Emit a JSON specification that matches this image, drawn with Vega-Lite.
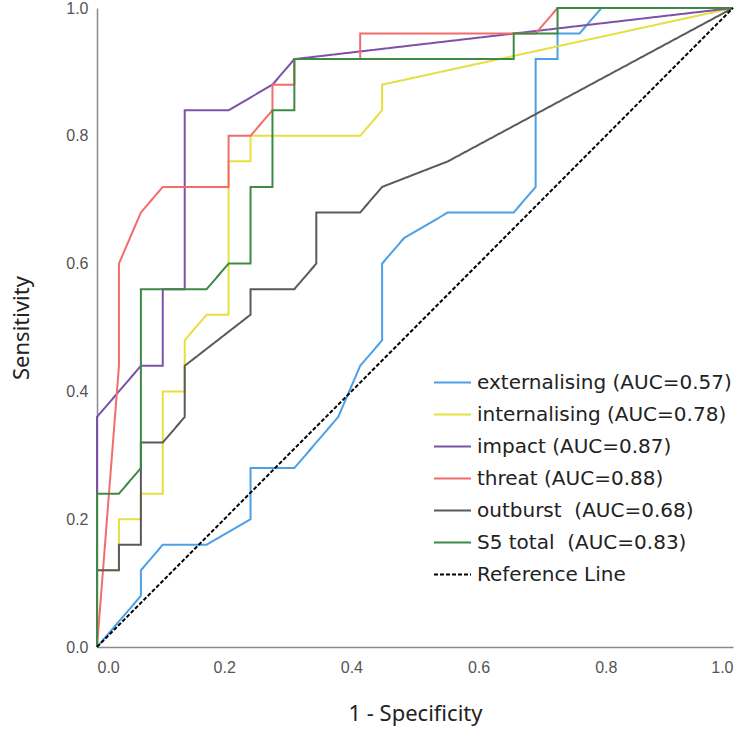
{
  "$schema": "https://vega.github.io/schema/vega-lite/v6.json",
  "autosize": "none",
  "width": 636,
  "height": 639,
  "padding": {"left": 97, "top": 8, "right": 17, "bottom": 87},
  "background": "white",
  "config": {"view": {"stroke": null}},
  "data": {"values": [
    {"series": "externalising (AUC=0.57)", "fpr": 0, "tpr": 0},
    {"series": "externalising (AUC=0.57)", "fpr": 0.069, "tpr": 0.08},
    {"series": "externalising (AUC=0.57)", "fpr": 0.069, "tpr": 0.12},
    {"series": "externalising (AUC=0.57)", "fpr": 0.1034, "tpr": 0.16},
    {"series": "externalising (AUC=0.57)", "fpr": 0.1724, "tpr": 0.16},
    {"series": "externalising (AUC=0.57)", "fpr": 0.2414, "tpr": 0.2},
    {"series": "externalising (AUC=0.57)", "fpr": 0.2414, "tpr": 0.28},
    {"series": "externalising (AUC=0.57)", "fpr": 0.3103, "tpr": 0.28},
    {"series": "externalising (AUC=0.57)", "fpr": 0.3793, "tpr": 0.36},
    {"series": "externalising (AUC=0.57)", "fpr": 0.4138, "tpr": 0.44},
    {"series": "externalising (AUC=0.57)", "fpr": 0.4483, "tpr": 0.48},
    {"series": "externalising (AUC=0.57)", "fpr": 0.4483, "tpr": 0.6},
    {"series": "externalising (AUC=0.57)", "fpr": 0.4828, "tpr": 0.64},
    {"series": "externalising (AUC=0.57)", "fpr": 0.5517, "tpr": 0.68},
    {"series": "externalising (AUC=0.57)", "fpr": 0.6552, "tpr": 0.68},
    {"series": "externalising (AUC=0.57)", "fpr": 0.6897, "tpr": 0.72},
    {"series": "externalising (AUC=0.57)", "fpr": 0.6897, "tpr": 0.92},
    {"series": "externalising (AUC=0.57)", "fpr": 0.7241, "tpr": 0.92},
    {"series": "externalising (AUC=0.57)", "fpr": 0.7241, "tpr": 0.96},
    {"series": "externalising (AUC=0.57)", "fpr": 0.7586, "tpr": 0.96},
    {"series": "externalising (AUC=0.57)", "fpr": 0.7931, "tpr": 1},
    {"series": "externalising (AUC=0.57)", "fpr": 1, "tpr": 1},

    {"series": "internalising (AUC=0.78)", "fpr": 0, "tpr": 0},
    {"series": "internalising (AUC=0.78)", "fpr": 0, "tpr": 0.12},
    {"series": "internalising (AUC=0.78)", "fpr": 0.0345, "tpr": 0.12},
    {"series": "internalising (AUC=0.78)", "fpr": 0.0345, "tpr": 0.2},
    {"series": "internalising (AUC=0.78)", "fpr": 0.069, "tpr": 0.2},
    {"series": "internalising (AUC=0.78)", "fpr": 0.069, "tpr": 0.24},
    {"series": "internalising (AUC=0.78)", "fpr": 0.1034, "tpr": 0.24},
    {"series": "internalising (AUC=0.78)", "fpr": 0.1034, "tpr": 0.4},
    {"series": "internalising (AUC=0.78)", "fpr": 0.1379, "tpr": 0.4},
    {"series": "internalising (AUC=0.78)", "fpr": 0.1379, "tpr": 0.48},
    {"series": "internalising (AUC=0.78)", "fpr": 0.1724, "tpr": 0.52},
    {"series": "internalising (AUC=0.78)", "fpr": 0.2069, "tpr": 0.52},
    {"series": "internalising (AUC=0.78)", "fpr": 0.2069, "tpr": 0.76},
    {"series": "internalising (AUC=0.78)", "fpr": 0.2414, "tpr": 0.76},
    {"series": "internalising (AUC=0.78)", "fpr": 0.2414, "tpr": 0.8},
    {"series": "internalising (AUC=0.78)", "fpr": 0.4138, "tpr": 0.8},
    {"series": "internalising (AUC=0.78)", "fpr": 0.4483, "tpr": 0.84},
    {"series": "internalising (AUC=0.78)", "fpr": 0.4483, "tpr": 0.88},
    {"series": "internalising (AUC=0.78)", "fpr": 1, "tpr": 1},

    {"series": "impact (AUC=0.87)", "fpr": 0, "tpr": 0},
    {"series": "impact (AUC=0.87)", "fpr": 0, "tpr": 0.36},
    {"series": "impact (AUC=0.87)", "fpr": 0.069, "tpr": 0.44},
    {"series": "impact (AUC=0.87)", "fpr": 0.1034, "tpr": 0.44},
    {"series": "impact (AUC=0.87)", "fpr": 0.1034, "tpr": 0.56},
    {"series": "impact (AUC=0.87)", "fpr": 0.1379, "tpr": 0.56},
    {"series": "impact (AUC=0.87)", "fpr": 0.1379, "tpr": 0.84},
    {"series": "impact (AUC=0.87)", "fpr": 0.2069, "tpr": 0.84},
    {"series": "impact (AUC=0.87)", "fpr": 0.2759, "tpr": 0.88},
    {"series": "impact (AUC=0.87)", "fpr": 0.3103, "tpr": 0.92},
    {"series": "impact (AUC=0.87)", "fpr": 1, "tpr": 1},

    {"series": "threat (AUC=0.88)", "fpr": 0, "tpr": 0},
    {"series": "threat (AUC=0.88)", "fpr": 0.0345, "tpr": 0.44},
    {"series": "threat (AUC=0.88)", "fpr": 0.0345, "tpr": 0.6},
    {"series": "threat (AUC=0.88)", "fpr": 0.069, "tpr": 0.68},
    {"series": "threat (AUC=0.88)", "fpr": 0.1034, "tpr": 0.72},
    {"series": "threat (AUC=0.88)", "fpr": 0.2069, "tpr": 0.72},
    {"series": "threat (AUC=0.88)", "fpr": 0.2069, "tpr": 0.8},
    {"series": "threat (AUC=0.88)", "fpr": 0.2414, "tpr": 0.8},
    {"series": "threat (AUC=0.88)", "fpr": 0.2759, "tpr": 0.84},
    {"series": "threat (AUC=0.88)", "fpr": 0.2759, "tpr": 0.88},
    {"series": "threat (AUC=0.88)", "fpr": 0.3103, "tpr": 0.88},
    {"series": "threat (AUC=0.88)", "fpr": 0.3103, "tpr": 0.92},
    {"series": "threat (AUC=0.88)", "fpr": 0.4138, "tpr": 0.92},
    {"series": "threat (AUC=0.88)", "fpr": 0.4138, "tpr": 0.96},
    {"series": "threat (AUC=0.88)", "fpr": 0.6897, "tpr": 0.96},
    {"series": "threat (AUC=0.88)", "fpr": 0.7241, "tpr": 1},
    {"series": "threat (AUC=0.88)", "fpr": 1, "tpr": 1},

    {"series": "outburst\u00a0 (AUC=0.68)", "fpr": 0, "tpr": 0},
    {"series": "outburst\u00a0 (AUC=0.68)", "fpr": 0, "tpr": 0.12},
    {"series": "outburst\u00a0 (AUC=0.68)", "fpr": 0.0345, "tpr": 0.12},
    {"series": "outburst\u00a0 (AUC=0.68)", "fpr": 0.0345, "tpr": 0.16},
    {"series": "outburst\u00a0 (AUC=0.68)", "fpr": 0.069, "tpr": 0.16},
    {"series": "outburst\u00a0 (AUC=0.68)", "fpr": 0.069, "tpr": 0.32},
    {"series": "outburst\u00a0 (AUC=0.68)", "fpr": 0.1034, "tpr": 0.32},
    {"series": "outburst\u00a0 (AUC=0.68)", "fpr": 0.1379, "tpr": 0.36},
    {"series": "outburst\u00a0 (AUC=0.68)", "fpr": 0.1379, "tpr": 0.44},
    {"series": "outburst\u00a0 (AUC=0.68)", "fpr": 0.2414, "tpr": 0.52},
    {"series": "outburst\u00a0 (AUC=0.68)", "fpr": 0.2414, "tpr": 0.56},
    {"series": "outburst\u00a0 (AUC=0.68)", "fpr": 0.3103, "tpr": 0.56},
    {"series": "outburst\u00a0 (AUC=0.68)", "fpr": 0.3448, "tpr": 0.6},
    {"series": "outburst\u00a0 (AUC=0.68)", "fpr": 0.3448, "tpr": 0.68},
    {"series": "outburst\u00a0 (AUC=0.68)", "fpr": 0.4138, "tpr": 0.68},
    {"series": "outburst\u00a0 (AUC=0.68)", "fpr": 0.4483, "tpr": 0.72},
    {"series": "outburst\u00a0 (AUC=0.68)", "fpr": 0.5517, "tpr": 0.76},
    {"series": "outburst\u00a0 (AUC=0.68)", "fpr": 1, "tpr": 1},

    {"series": "S5 total\u00a0 (AUC=0.83)", "fpr": 0, "tpr": 0},
    {"series": "S5 total\u00a0 (AUC=0.83)", "fpr": 0, "tpr": 0.24},
    {"series": "S5 total\u00a0 (AUC=0.83)", "fpr": 0.0345, "tpr": 0.24},
    {"series": "S5 total\u00a0 (AUC=0.83)", "fpr": 0.069, "tpr": 0.28},
    {"series": "S5 total\u00a0 (AUC=0.83)", "fpr": 0.069, "tpr": 0.56},
    {"series": "S5 total\u00a0 (AUC=0.83)", "fpr": 0.1724, "tpr": 0.56},
    {"series": "S5 total\u00a0 (AUC=0.83)", "fpr": 0.2069, "tpr": 0.6},
    {"series": "S5 total\u00a0 (AUC=0.83)", "fpr": 0.2414, "tpr": 0.6},
    {"series": "S5 total\u00a0 (AUC=0.83)", "fpr": 0.2414, "tpr": 0.72},
    {"series": "S5 total\u00a0 (AUC=0.83)", "fpr": 0.2759, "tpr": 0.72},
    {"series": "S5 total\u00a0 (AUC=0.83)", "fpr": 0.2759, "tpr": 0.84},
    {"series": "S5 total\u00a0 (AUC=0.83)", "fpr": 0.3103, "tpr": 0.84},
    {"series": "S5 total\u00a0 (AUC=0.83)", "fpr": 0.3103, "tpr": 0.92},
    {"series": "S5 total\u00a0 (AUC=0.83)", "fpr": 0.6552, "tpr": 0.92},
    {"series": "S5 total\u00a0 (AUC=0.83)", "fpr": 0.6552, "tpr": 0.96},
    {"series": "S5 total\u00a0 (AUC=0.83)", "fpr": 0.7241, "tpr": 0.96},
    {"series": "S5 total\u00a0 (AUC=0.83)", "fpr": 0.7241, "tpr": 1},
    {"series": "S5 total\u00a0 (AUC=0.83)", "fpr": 1, "tpr": 1},

    {"series": "Reference Line", "fpr": 0, "tpr": 0},
    {"series": "Reference Line", "fpr": 1, "tpr": 1}
  ]},
  "mark": {"type": "line", "strokeWidth": 2, "strokeCap": "butt", "strokeJoin": "miter", "clip": false},
  "encoding": {
    "x": {
      "field": "fpr", "type": "quantitative",
      "scale": {"domain": [0, 1], "nice": false, "zero": false},
      "axis": {
        "title": "1 - Specificity",
        "values": [0, 0.2, 0.4, 0.6, 0.8, 1],
        "format": ".1f",
        "grid": false, "ticks": false,
        "domainColor": "#8a8a8a", "domainWidth": 1.5,
        "labelFont": "Liberation Sans", "labelFontSize": 16, "labelColor": "#555555",
        "labelPadding": 12,
        "titleFont": "Noto Sans", "titleFontSize": 22, "titleFontWeight": "normal", "titleColor": "#222222",
        "titlePadding": 28
      }
    },
    "y": {
      "field": "tpr", "type": "quantitative",
      "scale": {"domain": [0, 1], "nice": false, "zero": false},
      "axis": {
        "title": "Sensitivity",
        "values": [0, 0.2, 0.4, 0.6, 0.8, 1],
        "format": ".1f",
        "grid": false, "ticks": false,
        "domainColor": "#8a8a8a", "domainWidth": 1.5,
        "labelFont": "Liberation Sans", "labelFontSize": 16, "labelColor": "#555555",
        "labelPadding": 9,
        "titleFont": "Noto Sans", "titleFontSize": 22, "titleFontWeight": "normal", "titleColor": "#222222",
        "titlePadding": 32
      }
    },
    "color": {
      "field": "series", "type": "nominal",
      "scale": {
        "domain": ["externalising (AUC=0.57)", "internalising (AUC=0.78)", "impact (AUC=0.87)", "threat (AUC=0.88)", "outburst\u00a0 (AUC=0.68)", "S5 total\u00a0 (AUC=0.83)", "Reference Line"],
        "range": ["#4d9fe6", "#e6df3e", "#7c52a8", "#f26c6c", "#5a5a5a", "#3c8a44", "#000000"]
      },
      "legend": {
        "title": null,
        "orient": "none", "legendX": 336, "legendY": 355,
        "symbolType": "stroke", "symbolSize": 1369, "symbolStrokeWidth": 2,
        "labelFont": "DejaVu Sans", "labelFontSize": 20, "labelColor": "#222222",
        "labelOffset": 5, "rowPadding": 2, "labelLimit": 400
      }
    },
    "strokeDash": {
      "field": "series", "type": "nominal",
      "scale": {
        "domain": ["externalising (AUC=0.57)", "internalising (AUC=0.78)", "impact (AUC=0.87)", "threat (AUC=0.88)", "outburst\u00a0 (AUC=0.68)", "S5 total\u00a0 (AUC=0.83)", "Reference Line"],
        "range": [[1, 0], [1, 0], [1, 0], [1, 0], [1, 0], [1, 0], [4, 2]]
      },
      "legend": {
        "title": null,
        "orient": "none", "legendX": 336, "legendY": 355,
        "symbolType": "stroke", "symbolSize": 1369, "symbolStrokeWidth": 2,
        "labelFont": "DejaVu Sans", "labelFontSize": 20, "labelColor": "#222222",
        "labelOffset": 5, "rowPadding": 2, "labelLimit": 400
      }
    },
    "order": {"value": null}
  }
}
